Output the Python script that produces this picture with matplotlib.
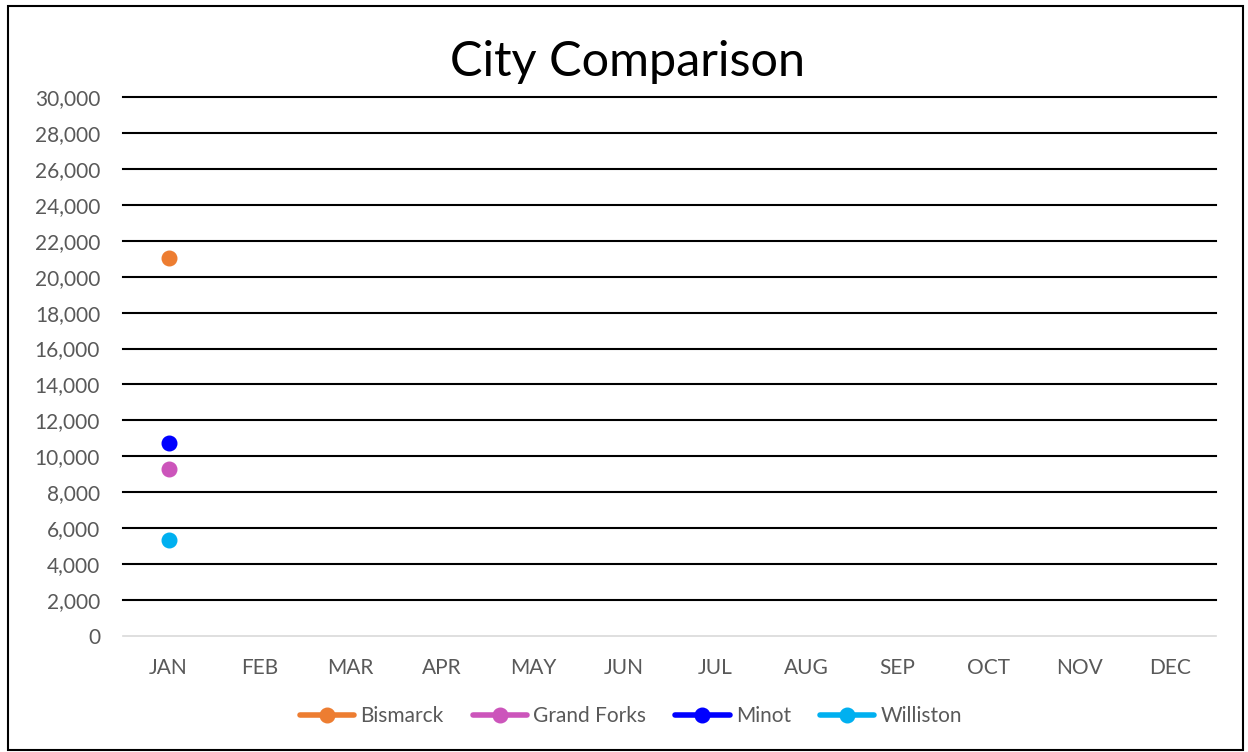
import matplotlib
matplotlib.use("Agg")
import matplotlib.pyplot as plt
from matplotlib.patches import Rectangle
from matplotlib.ticker import FuncFormatter
import numpy as np

months = ["JAN", "FEB", "MAR", "APR", "MAY", "JUN", "JUL", "AUG", "SEP", "OCT", "NOV", "DEC"]
bismarck = [21050]
grand_forks = [9300]
minot = [10750]
williston = [5350]

series = [("Bismarck", bismarck, "#ED7D31"),
          ("Grand Forks", grand_forks, "#CC55BB"),
          ("Minot", minot, "#0000FF"),
          ("Williston", williston, "#00B0F0")]

plt.rcParams['font.family'] = ['Lato', 'DejaVu Sans']

fig = plt.figure(figsize=(12.48, 7.52), dpi=100)
W, H = 1248, 752
ax = fig.add_axes([123 / W, 1 - 636 / H, (1216 - 123) / W, (636 - 97) / H])

for name, vals, col in series:
    xs = np.arange(len(vals))
    ax.plot(xs, vals, color=col, lw=4, marker="o", markersize=10.5, label=name,
            solid_capstyle="round")

ax.set_xlim(-0.5, 11.5)
ax.set_ylim(0, 30000)
ax.set_xticks(range(12))
ax.set_xticklabels(months)
ax.set_yticks(range(0, 30001, 2000))
ax.yaxis.set_major_formatter(FuncFormatter(lambda v, p: f"{int(v):,}"))
ax.tick_params(axis="both", length=0, labelsize=15, colors="#595959")
ax.tick_params(axis="x", pad=16)
ax.tick_params(axis="y", pad=16.5)
for s in ["top", "right", "left"]:
    ax.spines[s].set_visible(False)
ax.spines["bottom"].set_color("#D9D9D9")
ax.spines["bottom"].set_linewidth(1.2)
ax.set_axisbelow(True)
for v in range(2000, 30001, 2000):
    ax.axhline(v, color="black", lw=1.5, zorder=0, clip_on=False)

fig.text(628 / W, 1 - 62 / H, "City Comparison", ha="center", va="center",
         fontsize=35, color="black")

leg = fig.legend(loc="center", bbox_to_anchor=(631 / W, 1 - 716 / H), ncol=4,
                 frameon=False, fontsize=15, handlelength=2.6, handletextpad=0.3,
                 columnspacing=1.4, labelcolor="#595959")

fig.patches.append(Rectangle((8 / W, 1 - 750 / H), (1243 - 8) / W, (750 - 6) / H,
                             transform=fig.transFigure, fill=False, edgecolor="black", lw=1.5))

fig.savefig("out.png", dpi=100)
